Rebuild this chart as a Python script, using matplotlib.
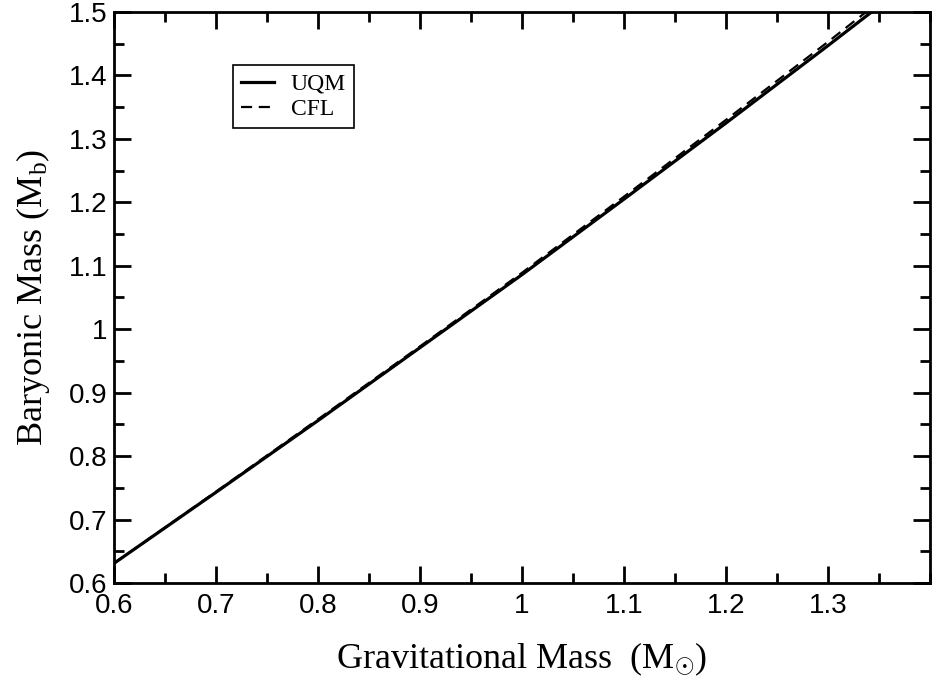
import matplotlib
matplotlib.use("Agg")
import matplotlib.pyplot as plt
from matplotlib.ticker import MultipleLocator, FixedLocator, FuncFormatter

plt.rcParams['mathtext.fontset'] = 'custom'
plt.rcParams['mathtext.rm'] = 'Liberation Serif'
plt.rcParams['mathtext.it'] = 'Liberation Serif:italic'

# Data
grav_mass = [0.60, 0.70, 0.80, 0.90, 1.00, 1.10, 1.20, 1.30, 1.35]
uqm_baryonic = [0.631, 0.743, 0.856, 0.971, 1.086, 1.205, 1.325, 1.447, 1.509]
cfl_baryonic = [0.631, 0.744, 0.858, 0.973, 1.089, 1.209, 1.330, 1.453, 1.516]

xticks = [0.6, 0.7, 0.8, 0.9, 1.0, 1.1, 1.2, 1.3]
yticks = [0.6, 0.7, 0.8, 0.9, 1.0, 1.1, 1.2, 1.3, 1.4, 1.5]

fig = plt.figure(figsize=(9.36, 6.89), dpi=100)
ax = fig.add_axes([114/936, 1 - 583/689, (930 - 114)/936, (583 - 12)/689])

ax.plot(grav_mass, uqm_baryonic, color='black', lw=2.3, ls='-', label='UQM')
ax.plot(grav_mass, cfl_baryonic, color='black', lw=1.6, ls=(0, (5, 3)), label='CFL')

ax.set_xlim(0.6, 1.4)
ax.set_ylim(0.6, 1.5)

def fmt(v, pos):
    s = f"{v:.1f}"
    return "1" if s == "1.0" else s

ax.xaxis.set_major_locator(FixedLocator(xticks))
ax.yaxis.set_major_locator(FixedLocator(yticks))
ax.xaxis.set_minor_locator(MultipleLocator(0.05))
ax.yaxis.set_minor_locator(MultipleLocator(0.05))
ax.xaxis.set_major_formatter(FuncFormatter(fmt))
ax.yaxis.set_major_formatter(FuncFormatter(fmt))

ax.tick_params(which='both', direction='in', top=True, right=True, width=2)
ax.tick_params(which='major', length=12)
ax.tick_params(which='minor', length=7)
ax.tick_params(axis='x', which='major', pad=7)
ax.tick_params(axis='y', which='major', pad=5)
for lab in ax.get_xticklabels() + ax.get_yticklabels():
    lab.set_fontfamily('Liberation Sans')
    lab.set_fontsize(20)

for sp in ax.spines.values():
    sp.set_linewidth(2)

ax.set_xlabel(r'Gravitational Mass  (M$_{\odot}$)', fontfamily='Liberation Serif',
              fontsize=26, labelpad=16)
ax.set_ylabel(r'Baryonic Mass (M$_{\mathrm{b}}$)', fontfamily='Liberation Serif',
              fontsize=26, labelpad=12)

leg = ax.legend(loc='upper left', bbox_to_anchor=((233 - 114)/816, 1 - (65 - 12)/571),
                frameon=True, fancybox=False, edgecolor='black', framealpha=1,
                prop={'family': 'Liberation Serif', 'size': 17},
                handlelength=1.4, handletextpad=0.7, borderpad=0.35, labelspacing=0.15,
                borderaxespad=0)
leg.get_frame().set_linewidth(1.2)

fig.savefig('out.png', dpi=100)
